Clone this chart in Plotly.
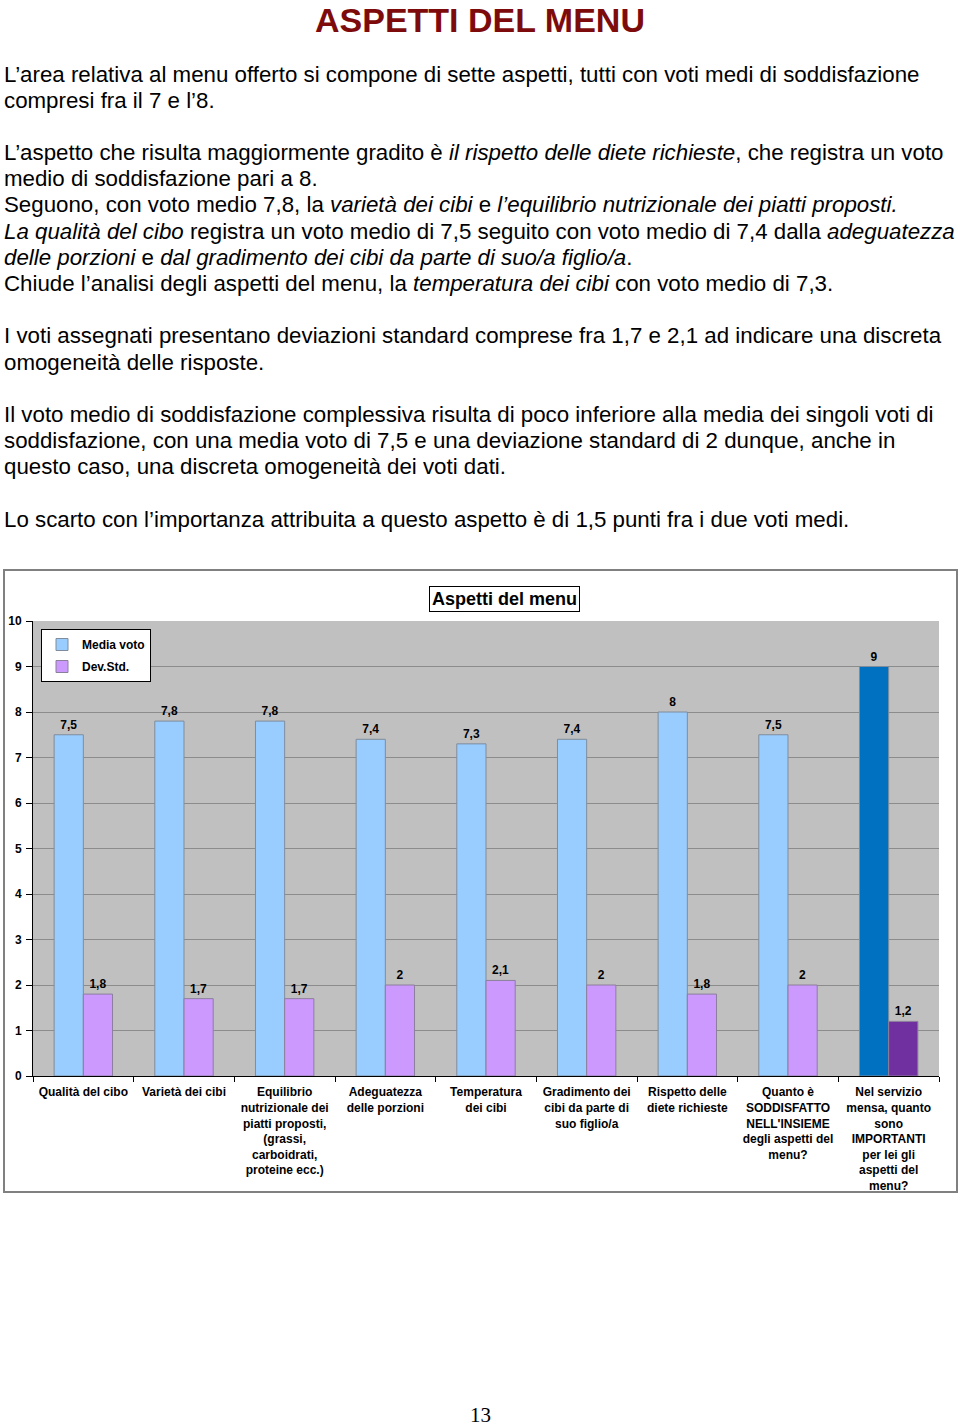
import plotly.graph_objects as go

W, H = 960, 1428

categories = [
    "Qualità del cibo",
    "Varietà dei cibi",
    "Equilibrio<br>nutrizionale dei<br>piatti proposti,<br>(grassi,<br>carboidrati,<br>proteine ecc.)",
    "Adeguatezza<br>delle porzioni",
    "Temperatura<br>dei cibi",
    "Gradimento dei<br>cibi da parte di<br>suo figlio/a",
    "Rispetto delle<br>diete richieste",
    "Quanto è<br>SODDISFATTO<br>NELL'INSIEME<br>degli aspetti del<br>menu?",
    "Nel servizio<br>mensa, quanto<br>sono<br>IMPORTANTI<br>per lei gli<br>aspetti del<br>menu?",
]
media_voto = [7.5, 7.8, 7.8, 7.4, 7.3, 7.4, 8, 7.5, 9]
dev_std = [1.8, 1.7, 1.7, 2, 2.1, 2, 1.8, 2, 1.2]
y_ticks = [0, 1, 2, 3, 4, 5, 6, 7, 8, 9, 10]

page_title = "ASPETTI DEL MENU"
chart_title = "Aspetti del menu"
page_number = "13"
body_lines = [
    "L’area relativa al menu offerto si compone di sette aspetti, tutti con voti medi di soddisfazione",
    "compresi fra il 7 e l’8.",
    "",
    "L’aspetto che risulta maggiormente gradito è <i>il rispetto delle diete richieste</i>, che registra un voto",
    "medio di soddisfazione pari a 8.",
    "Seguono, con voto medio 7,8, la <i>varietà dei cibi</i> e <i>l’equilibrio nutrizionale dei piatti proposti.</i>",
    "<i>La qualità del cibo</i> registra un voto medio di 7,5 seguito con voto medio di 7,4 dalla <i>adeguatezza</i>",
    "<i>delle porzioni</i> e <i>dal gradimento dei cibi da parte di suo/a figlio/a</i>.",
    "Chiude l’analisi degli aspetti del menu, la <i>temperatura dei cibi</i> con voto medio di 7,3.",
    "",
    "I voti assegnati presentano deviazioni standard comprese fra 1,7 e 2,1 ad indicare una discreta",
    "omogeneità delle risposte.",
    "",
    "Il voto medio di soddisfazione complessiva risulta di poco inferiore alla media dei singoli voti di",
    "soddisfazione, con una media voto di 7,5 e una deviazione standard di 2 dunque, anche in",
    "questo caso, una discreta omogeneità dei voti dati.",
    "",
    "Lo scarto con l’importanza attribuita a questo aspetto è di 1,5 punti fra i due voti medi.",
]


def fmt(v):
    s = ("%g" % v)
    return s.replace(".", ",")


def px(x):
    return x / W


def py(y):
    return 1 - y / H


SANS = "Liberation Sans, Arial, sans-serif"

media_colors = ["#99CCFF"] * (len(media_voto) - 1) + ["#0070C0"]
dev_colors = ["#CC99FF"] * (len(dev_std) - 1) + ["#7030A0"]

fig = go.Figure()
fig.add_trace(go.Bar(
    name="Media voto", x=categories, y=media_voto,
    text=[fmt(v) for v in media_voto], textposition="outside",
    textfont=dict(family=SANS, size=12, color="black", weight="bold"),
    marker=dict(color=media_colors, line=dict(color="#7F8C9C", width=1)),
    cliponaxis=False, legendgroup="a",
))
fig.add_trace(go.Bar(
    name="Dev.Std.", x=categories, y=dev_std,
    text=[fmt(v) for v in dev_std], textposition="outside",
    textfont=dict(family=SANS, size=12, color="black", weight="bold"),
    marker=dict(color=dev_colors, line=dict(color="#8C7F9C", width=1)),
    cliponaxis=False, legendgroup="b",
))

annotations = [
    dict(text=page_title, x=0.5, y=1, xref="paper", yref="paper",
         xanchor="center", yanchor="top", showarrow=False, borderpad=0,
         font=dict(family=SANS, size=34, color="#7E0B0B", weight="bold")),
    dict(text=chart_title, x=px(504.5), y=py(598.5), xref="paper", yref="paper",
         xanchor="center", yanchor="middle", showarrow=False,
         bordercolor="black", borderwidth=1, borderpad=2, bgcolor="white",
         font=dict(family=SANS, size=18, color="black", weight="bold")),
    dict(text=page_number, x=0.5, y=0, xref="paper", yref="paper",
         xanchor="center", yanchor="bottom", showarrow=False, borderpad=0,
         font=dict(family="Liberation Serif, Times New Roman, serif", size=21, color="black")),
]

line_y = 74
for line in body_lines:
    if line:
        annotations.append(dict(
            text=line, x=px(2), y=py(line_y), xref="paper", yref="paper",
            xanchor="left", yanchor="middle", showarrow=False, align="left",
            font=dict(family=SANS, size=22.3, color="black")))
    line_y += 26.2

fig.update_layout(
    width=W, height=H, template="none",
    margin=dict(l=0, r=0, t=0, b=0),
    paper_bgcolor="white", plot_bgcolor="#C0C0C0",
    barmode="group", bargap=0.42, bargroupgap=0,
    showlegend=True,
    legend=dict(x=px(41), y=py(629), xanchor="left", yanchor="top",
                bgcolor="white", bordercolor="black", borderwidth=1,
                font=dict(family=SANS, size=12, color="black", weight="bold"),
                itemwidth=30, tracegroupgap=3),
    xaxis=dict(domain=[px(33), px(939)], type="category", tickson="boundaries",
               ticks="outside", ticklen=5, tickcolor="black", showline=True,
               linecolor="black", linewidth=1, showgrid=False, automargin=False,
               ticklabelstandoff=5,
               tickfont=dict(family=SANS, size=12, color="black", weight="bold"),
               tickangle=0),
    yaxis=dict(domain=[py(1076), py(621)], range=[0, 10], tickvals=y_ticks,
               ticks="outside", ticklen=6, tickcolor="black", showline=True,
               linecolor="black", linewidth=1, showgrid=True, gridcolor="#8C8C8C",
               gridwidth=1, zeroline=False, automargin=False,
               ticklabelstandoff=2,
               tickfont=dict(family=SANS, size=12, color="black", weight="bold")),
    annotations=annotations,
    shapes=[dict(type="rect", xref="paper", yref="paper",
                 x0=px(4), x1=px(957), y0=py(1192), y1=py(570),
                 line=dict(color="#808080", width=2), fillcolor="rgba(0,0,0,0)",
                 layer="below")],
)

fig.write_html("out.html")
